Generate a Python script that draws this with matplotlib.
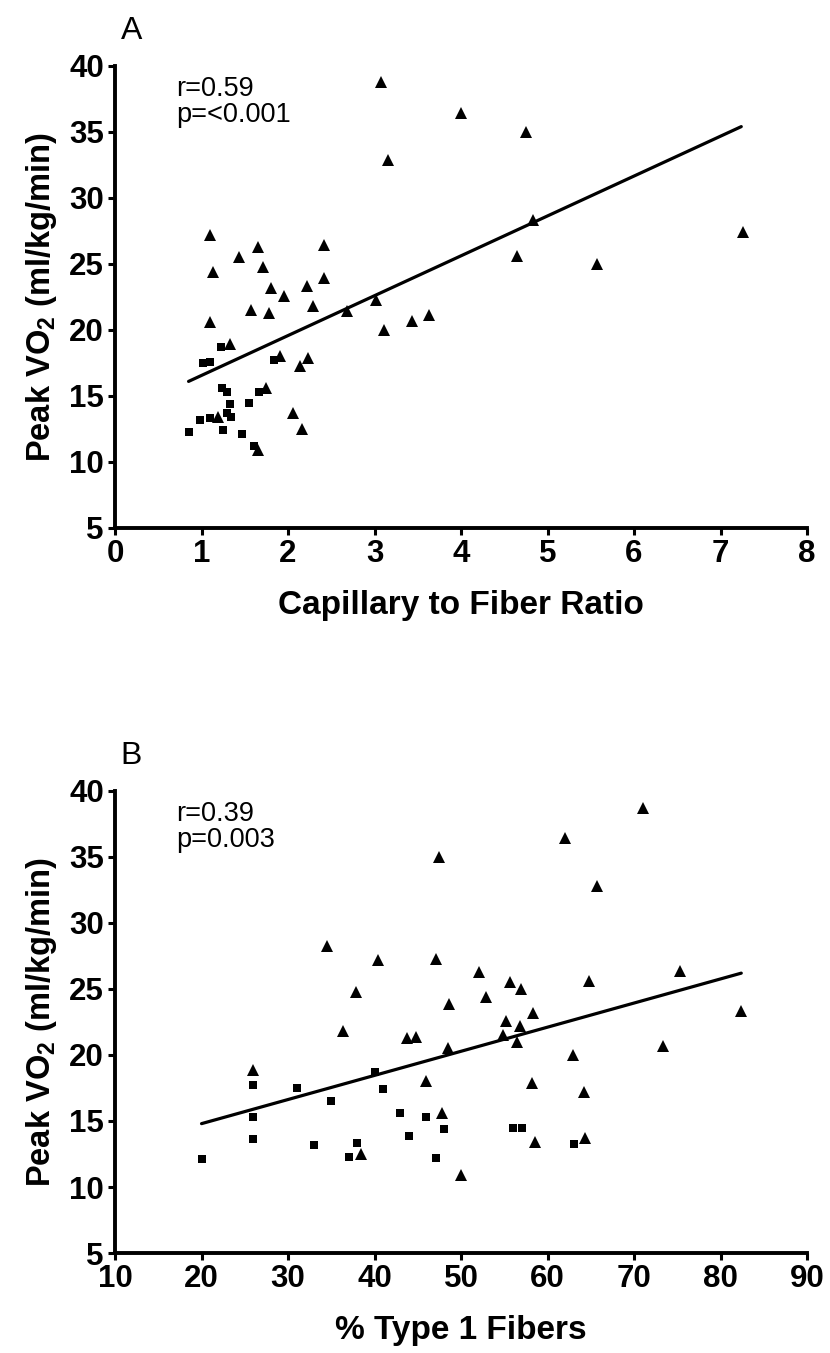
import matplotlib
matplotlib.use("Agg")
import matplotlib.pyplot as plt

# Panel A: capillary to fiber ratio vs peak VO2
a_tri_x = [3.07, 4.00, 4.75, 3.15, 4.83, 7.26, 4.65, 5.57, 1.10, 1.13, 1.43, 1.65,
           1.71, 2.42, 2.42, 2.22, 1.80, 1.95, 2.29, 1.57, 1.78, 2.68, 3.02, 3.43,
           3.63, 3.11, 1.10, 1.33, 1.91, 2.23, 2.14, 1.74, 2.06, 2.16, 1.19, 1.65]
a_tri_y = [38.8, 36.4, 35.0, 32.9, 28.3, 27.4, 25.6, 25.0, 27.2, 24.4, 25.5, 26.3,
           24.8, 26.4, 23.9, 23.3, 23.2, 22.6, 21.8, 21.5, 21.3, 21.4, 22.3, 20.7,
           21.1, 20.0, 20.6, 18.9, 18.0, 17.9, 17.3, 15.6, 13.7, 12.5, 13.4, 10.9]
a_sq_x = [0.85, 0.98, 1.10, 1.02, 1.10, 1.22, 1.24, 1.29, 1.33, 1.29, 1.34, 1.25,
          1.47, 1.55, 1.66, 1.61, 1.84]
a_sq_y = [12.3, 13.2, 13.3, 17.5, 17.6, 18.7, 15.6, 15.3, 14.4, 13.7, 13.4, 12.4,
          12.1, 14.5, 15.3, 11.2, 17.7]
a_fit_x = [0.85, 7.24]
a_fit_y = [16.1, 35.4]

# Panel B: % type 1 fibers vs peak VO2
b_tri_x = [71.0, 62.0, 47.5, 65.7, 34.5, 40.4, 47.1, 37.9, 52.1, 55.7, 52.9, 56.9,
           64.8, 75.3, 82.4, 48.6, 58.3, 55.2, 56.8, 36.4, 43.7, 44.8, 54.9, 56.5,
           48.5, 73.3, 62.9, 26.0, 46.0, 58.2, 64.2, 47.8, 64.3, 58.5, 38.4, 50.0]
b_tri_y = [38.7, 36.4, 35.0, 32.8, 28.25, 27.2, 27.3, 24.8, 26.3, 25.5, 24.4, 25.0,
           25.6, 26.4, 23.3, 23.9, 23.15, 22.6, 22.2, 21.8, 21.3, 21.35, 21.5, 21.0,
           20.55, 20.7, 20.0, 18.9, 18.0, 17.9, 17.2, 15.6, 13.7, 13.4, 12.5, 10.9]
b_sq_x = [20.0, 26.0, 26.0, 26.0, 31.0, 35.0, 33.0, 37.0, 38.0, 40.0, 41.0, 43.0,
          44.0, 46.0, 48.0, 47.1, 56.0, 57.0, 63.1]
b_sq_y = [12.1, 17.7, 15.3, 13.6, 17.5, 16.5, 13.15, 12.3, 13.3, 18.7, 17.4, 15.6,
          13.9, 15.3, 14.4, 12.2, 14.45, 14.5, 13.25]
b_fit_x = [20.0, 82.4]
b_fit_y = [14.8, 26.2]

plt.rcParams["font.family"] = ["Liberation Sans", "DejaVu Sans"]
plt.rcParams["mathtext.fontset"] = "custom"
plt.rcParams["mathtext.rm"] = "Liberation Sans"
plt.rcParams["mathtext.bf"] = "Liberation Sans:bold"

fig = plt.figure(figsize=(8.3, 13.53), dpi=100)


def panel(rect, tx, ty, sx, sy, fx, fy, xlim, xticks, xlabel, letter, r_txt, p_txt):
    ax = fig.add_axes(rect)
    ax.plot(fx, fy, color="black", lw=2.3, solid_capstyle="round", zorder=2)
    ax.plot(tx, ty, "^", color="black", ms=8.5, mew=0, zorder=3)
    ax.plot(sx, sy, "s", color="black", ms=5.2, mew=0, zorder=3)
    ax.set_xlim(*xlim)
    ax.set_ylim(5, 40)
    ax.set_xticks(xticks)
    ax.set_yticks(range(5, 41, 5))
    for s in ("top", "right"):
        ax.spines[s].set_visible(False)
    for s in ("left", "bottom"):
        ax.spines[s].set_linewidth(2.8)
    ax.tick_params(width=2.2, length=5, pad=3, labelsize=22.5)
    for lab in ax.get_xticklabels() + ax.get_yticklabels():
        lab.set_fontweight("bold")
    ax.set_xlabel(xlabel, fontsize=24, fontweight="bold", labelpad=15)
    ax.set_ylabel("Peak VO$_\\mathbf{2}$ (ml/kg/min)", fontsize=23.5,
                  fontweight="bold", labelpad=7)
    ax.text(0.008, 1.058, letter, transform=ax.transAxes, fontsize=23,
            va="baseline", ha="left")
    ax.text(0.088, 0.935, r_txt, transform=ax.transAxes, fontsize=19.5,
            va="baseline", ha="left")
    ax.text(0.088, 0.879, p_txt, transform=ax.transAxes, fontsize=19.5,
            va="baseline", ha="left")
    return ax


panel([0.1386, 0.6098, 0.8337, 0.3415], a_tri_x, a_tri_y, a_sq_x, a_sq_y,
      a_fit_x, a_fit_y, (0, 8), range(0, 9), "Capillary to Fiber Ratio",
      "A", "r=0.59", "p=<0.001")
panel([0.1386, 0.0739, 0.8337, 0.3415], b_tri_x, b_tri_y, b_sq_x, b_sq_y,
      b_fit_x, b_fit_y, (10, 90), range(10, 91, 10), "% Type 1 Fibers",
      "B", "r=0.39", "p=0.003")

fig.savefig("out.png", dpi=100, facecolor="white")
